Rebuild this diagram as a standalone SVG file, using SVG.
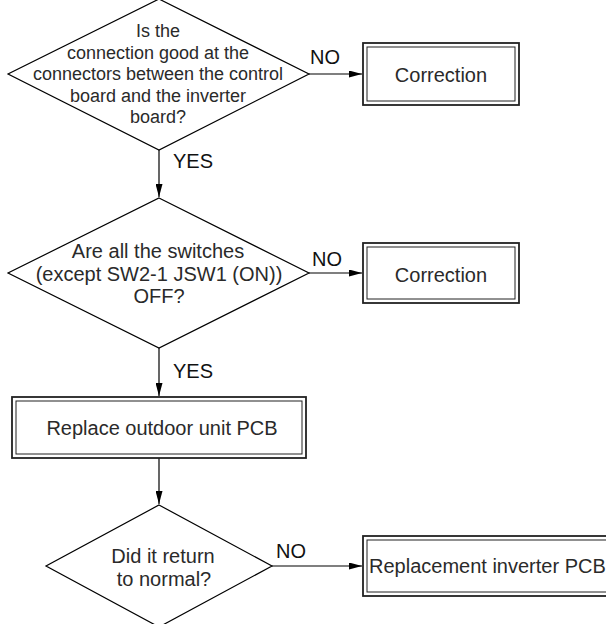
<svg xmlns="http://www.w3.org/2000/svg" width="606" height="624" viewBox="0 0 606 624">
<style>
.bg{fill:#fff}
.dia{fill:#fff;stroke:#000;stroke-width:1.2}
.outer{fill:#fff;stroke:#222;stroke-width:1.8}
.inner{fill:none;stroke:#222;stroke-width:1}
.t{font-family:"Liberation Sans",Arial,sans-serif;font-size:20px;fill:#2a2a2a;text-anchor:middle}
.t18{font-size:18px}
.lbl{font-family:"Liberation Sans",Arial,sans-serif;font-size:20px;fill:#111}
.con{stroke:#000;stroke-width:1.2;fill:none}
</style>
<defs>
<marker id="ah" markerWidth="13" markerHeight="7" refX="13" refY="3.5" orient="auto" markerUnits="userSpaceOnUse">
<path d="M0,0 L13,3.5 L0,7 Z" fill="#000"/>
</marker>
</defs>
<rect class="bg" x="0" y="0" width="606" height="624"/>

<g id="connectors">
<line class="con" x1="309" y1="74" x2="362" y2="74" marker-end="url(#ah)"/>
<line class="con" x1="159" y1="150" x2="159" y2="197" marker-end="url(#ah)"/>
<line class="con" x1="309" y1="273" x2="362" y2="273" marker-end="url(#ah)"/>
<line class="con" x1="159" y1="348" x2="159" y2="396" marker-end="url(#ah)"/>
<line class="con" x1="159" y1="458" x2="159" y2="504" marker-end="url(#ah)"/>
<line class="con" x1="272" y1="566" x2="362" y2="566" marker-end="url(#ah)"/>
<text class="lbl" x="310" y="64">NO</text>
<text class="lbl" x="173" y="168">YES</text>
<text class="lbl" x="312" y="266">NO</text>
<text class="lbl" x="173" y="378">YES</text>
<text class="lbl" x="276" y="558">NO</text>
</g>

<g id="q1">
<polygon class="dia" points="159,-1 309,74 159,150 8,74"/>
<text class="t t18" x="158" y="37">Is the</text>
<text class="t t18" x="158" y="59">connection good at the</text>
<text class="t t18" x="158" y="80">connectors between the control</text>
<text class="t t18" x="158" y="102">board and the inverter</text>
<text class="t t18" x="158" y="123">board?</text>
</g>

<g id="fix1">
<rect class="outer" x="363" y="43" width="156" height="62"/>
<rect class="inner" x="367" y="47" width="148" height="54"/>
<text class="t" x="441" y="82">Correction</text>
</g>

<g id="q2">
<polygon class="dia" points="159,198 309,273 159,348 8,273"/>
<text class="t" x="158" y="258">Are all the switches</text>
<text class="t" x="159" y="281">(except SW2-1 JSW1 (ON))</text>
<text class="t" x="159" y="303">OFF?</text>
</g>

<g id="fix2">
<rect class="outer" x="363" y="243" width="156" height="60"/>
<rect class="inner" x="367" y="247" width="148" height="52"/>
<text class="t" x="441" y="282">Correction</text>
</g>

<g id="replace">
<rect class="outer" x="12" y="397" width="294" height="61"/>
<rect class="inner" x="16" y="401" width="286" height="53"/>
<text class="t" x="162" y="435">Replace outdoor unit PCB</text>
</g>

<g id="q3">
<polygon class="dia" points="159,505 272,566 159,627 46,566"/>
<text class="t" x="163" y="563">Did it return</text>
<text class="t" x="164" y="586">to normal?</text>
</g>

<g id="inverter">
<rect class="outer" x="363" y="536" width="260" height="60"/>
<rect class="inner" x="367" y="540" width="252" height="52"/>
<text class="t" x="369" y="573" style="text-anchor:start">Replacement inverter PCB</text>
</g>
</svg>
